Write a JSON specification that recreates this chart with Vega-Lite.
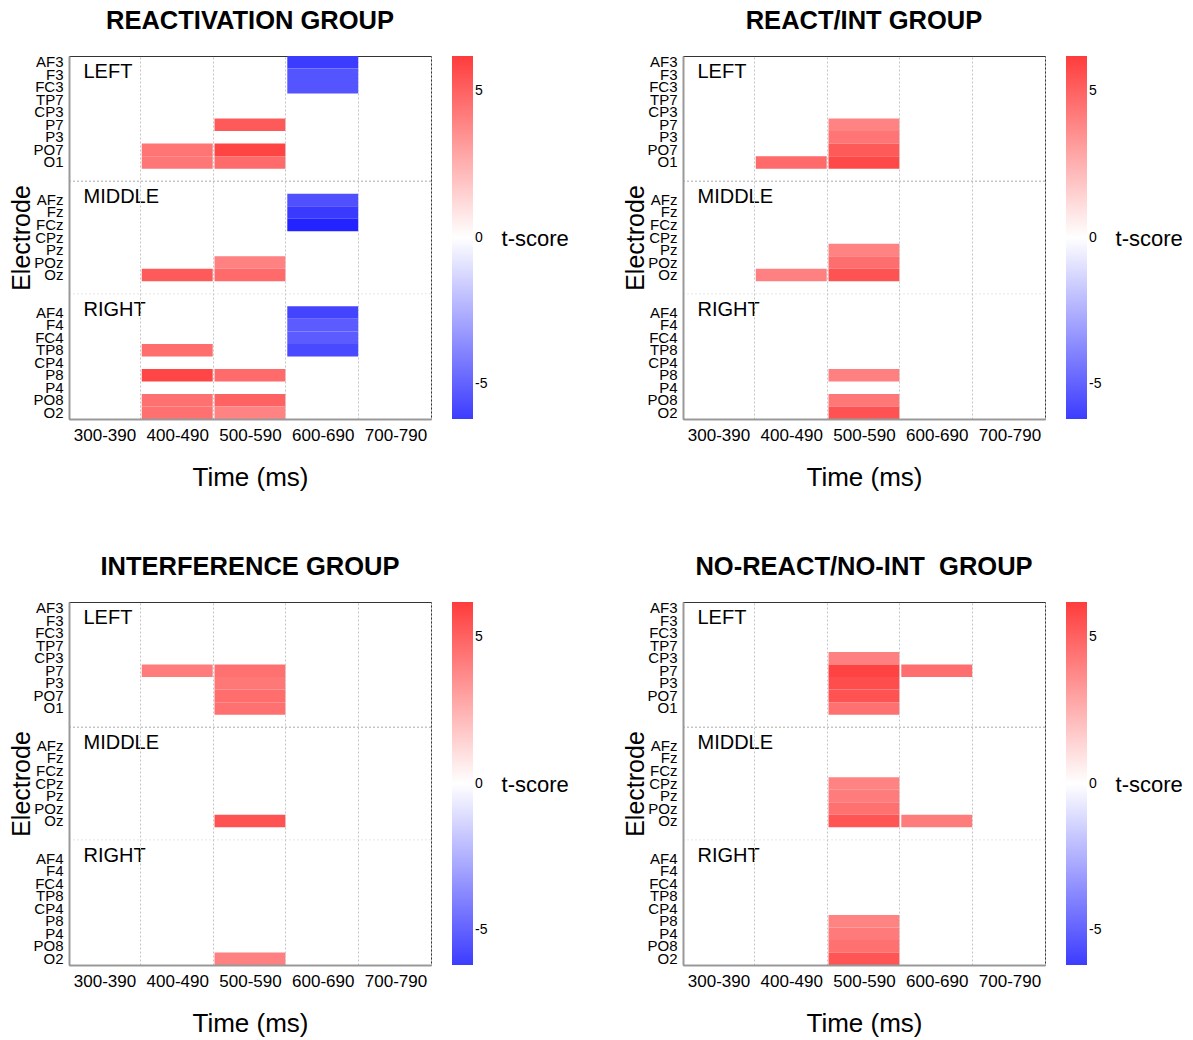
{
  "$schema": "https://vega.github.io/schema/vega-lite/v6.json",
  "background": "white",
  "padding": {"left": 9, "top": 8, "right": 5, "bottom": 5},
  "datasets": {
    "cells": [
      {"panel": "A", "time": "600-690", "electrode": "AF3", "t": -6.2},
      {"panel": "A", "time": "600-690", "electrode": "F3", "t": -5.4},
      {"panel": "A", "time": "600-690", "electrode": "FC3", "t": -5.4},
      {"panel": "A", "time": "500-590", "electrode": "P7", "t": 5.25},
      {"panel": "A", "time": "500-590", "electrode": "PO7", "t": 5.95},
      {"panel": "A", "time": "500-590", "electrode": "O1", "t": 4.75},
      {"panel": "A", "time": "400-490", "electrode": "PO7", "t": 4.4},
      {"panel": "A", "time": "400-490", "electrode": "O1", "t": 4.35},
      {"panel": "A", "time": "600-690", "electrode": "AFz", "t": -5.55},
      {"panel": "A", "time": "600-690", "electrode": "Fz", "t": -6.25},
      {"panel": "A", "time": "600-690", "electrode": "FCz", "t": -7.0},
      {"panel": "A", "time": "500-590", "electrode": "POz", "t": 4.0},
      {"panel": "A", "time": "500-590", "electrode": "Oz", "t": 4.75},
      {"panel": "A", "time": "400-490", "electrode": "Oz", "t": 5.25},
      {"panel": "A", "time": "600-690", "electrode": "AF4", "t": -5.95},
      {"panel": "A", "time": "600-690", "electrode": "F4", "t": -5.2},
      {"panel": "A", "time": "600-690", "electrode": "FC4", "t": -5.2},
      {"panel": "A", "time": "600-690", "electrode": "TP8", "t": -5.8},
      {"panel": "A", "time": "400-490", "electrode": "TP8", "t": 4.65},
      {"panel": "A", "time": "400-490", "electrode": "P8", "t": 5.9},
      {"panel": "A", "time": "400-490", "electrode": "PO8", "t": 4.55},
      {"panel": "A", "time": "400-490", "electrode": "O2", "t": 4.55},
      {"panel": "A", "time": "500-590", "electrode": "P8", "t": 4.75},
      {"panel": "A", "time": "500-590", "electrode": "PO8", "t": 5.0},
      {"panel": "A", "time": "500-590", "electrode": "O2", "t": 3.95},

      {"panel": "B", "time": "400-490", "electrode": "O1", "t": 4.75},
      {"panel": "B", "time": "500-590", "electrode": "P7", "t": 3.95},
      {"panel": "B", "time": "500-590", "electrode": "P3", "t": 4.4},
      {"panel": "B", "time": "500-590", "electrode": "PO7", "t": 5.25},
      {"panel": "B", "time": "500-590", "electrode": "O1", "t": 5.8},
      {"panel": "B", "time": "400-490", "electrode": "Oz", "t": 4.05},
      {"panel": "B", "time": "500-590", "electrode": "Pz", "t": 3.95},
      {"panel": "B", "time": "500-590", "electrode": "POz", "t": 4.6},
      {"panel": "B", "time": "500-590", "electrode": "Oz", "t": 5.5},
      {"panel": "B", "time": "500-590", "electrode": "P8", "t": 4.05},
      {"panel": "B", "time": "500-590", "electrode": "PO8", "t": 4.3},
      {"panel": "B", "time": "500-590", "electrode": "O2", "t": 5.5},

      {"panel": "C", "time": "400-490", "electrode": "P7", "t": 4.15},
      {"panel": "C", "time": "500-590", "electrode": "P7", "t": 4.55},
      {"panel": "C", "time": "500-590", "electrode": "P3", "t": 4.3},
      {"panel": "C", "time": "500-590", "electrode": "PO7", "t": 4.65},
      {"panel": "C", "time": "500-590", "electrode": "O1", "t": 4.5},
      {"panel": "C", "time": "500-590", "electrode": "Oz", "t": 5.5},
      {"panel": "C", "time": "500-590", "electrode": "O2", "t": 4.05},

      {"panel": "D", "time": "500-590", "electrode": "CP3", "t": 4.05},
      {"panel": "D", "time": "500-590", "electrode": "P7", "t": 6.0},
      {"panel": "D", "time": "500-590", "electrode": "P3", "t": 5.7},
      {"panel": "D", "time": "500-590", "electrode": "PO7", "t": 5.5},
      {"panel": "D", "time": "500-590", "electrode": "O1", "t": 4.55},
      {"panel": "D", "time": "600-690", "electrode": "P7", "t": 4.6},
      {"panel": "D", "time": "500-590", "electrode": "CPz", "t": 3.95},
      {"panel": "D", "time": "500-590", "electrode": "Pz", "t": 4.15},
      {"panel": "D", "time": "500-590", "electrode": "POz", "t": 4.5},
      {"panel": "D", "time": "500-590", "electrode": "Oz", "t": 5.4},
      {"panel": "D", "time": "600-690", "electrode": "Oz", "t": 4.15},
      {"panel": "D", "time": "500-590", "electrode": "P8", "t": 3.95},
      {"panel": "D", "time": "500-590", "electrode": "P4", "t": 4.2},
      {"panel": "D", "time": "500-590", "electrode": "PO8", "t": 4.5},
      {"panel": "D", "time": "500-590", "electrode": "O2", "t": 5.4}
    ],
    "groups": [
      {"label": "LEFT", "electrode": "F3"},
      {"label": "MIDDLE", "electrode": "AFz"},
      {"label": "RIGHT", "electrode": "AF4"}
    ],
    "scoreTitle": [
      {"label": "t-score", "electrode": "CPz"}
    ],
    "separators": [
      {"electrode": "_g2", "shade": "a"},
      {"electrode": "_g4", "shade": "b"}
    ]
  },
  "columns": 2,
  "spacing": {"column": 53, "row": 63},
  "resolve": {"scale": {"color": "independent"}, "legend": {"color": "independent"}},
  "concat": [
    {
      "title": "REACTIVATION GROUP",
      "width": 362, "height": 363,
      "layer": [
        {
          "data": {"name": "cells"},
          "transform": [{"filter": "datum.panel === 'A'"}],
          "mark": {"type": "rect"},
          "encoding": {
            "x": {"field": "time", "type": "ordinal", "scale": {"domain": ["300-390", "400-490", "500-590", "600-690", "700-790"], "paddingInner": 0.025, "paddingOuter": 0}, "axis": {"title": "Time (ms)"}},
            "y": {"field": "electrode", "type": "ordinal", "scale": {"domain": ["AF3", "F3", "FC3", "TP7", "CP3", "P7", "P3", "PO7", "O1", "_g1", "_g2", "AFz", "Fz", "FCz", "CPz", "Pz", "POz", "Oz", "_g3", "_g4", "AF4", "F4", "FC4", "TP8", "CP4", "P8", "P4", "PO8", "O2"], "paddingInner": 0, "paddingOuter": 0}, "axis": {"title": "Electrode"}},
            "color": {"field": "t", "type": "quantitative", "scale": {"type": "linear", "domain": [-6.2, 0, 6.2], "range": ["#3c3cff", "#ffffff", "#ff3c3c"], "interpolate": "rgb"}, "legend": {"title": null, "values": [-5, 0, 5], "labelExpr": "'' + datum.value"}}
          }
        },
        {
          "data": {"name": "separators"},
          "mark": {"type": "rule", "strokeDash": [2, 2], "strokeWidth": 1},
          "encoding": {"y": {"field": "electrode", "type": "ordinal", "bandPosition": 0}, "stroke": {"field": "shade", "type": "nominal", "scale": {"domain": ["a", "b"], "range": ["#aaaaaa", "#e6e6e6"]}, "legend": null}}
        },
        {
          "data": {"name": "groups"},
          "mark": {"type": "text", "align": "left", "baseline": "middle", "fontSize": 20, "dx": -21, "dy": -3, "color": "#000"},
          "encoding": {"x": {"datum": "300-390", "type": "ordinal"}, "y": {"field": "electrode", "type": "ordinal"}, "text": {"field": "label"}}
        },
        {
          "data": {"name": "scoreTitle"},
          "mark": {"type": "text", "align": "left", "baseline": "middle", "fontSize": 22, "dx": 106, "dy": 1, "color": "#000"},
          "encoding": {"x": {"datum": "700-790", "type": "ordinal"}, "y": {"field": "electrode", "type": "ordinal"}, "text": {"field": "label"}}
        }
      ]
    },
    {
      "title": "REACT/INT GROUP",
      "width": 362, "height": 363,
      "layer": [
        {
          "data": {"name": "cells"},
          "transform": [{"filter": "datum.panel === 'B'"}],
          "mark": {"type": "rect"},
          "encoding": {
            "x": {"field": "time", "type": "ordinal", "scale": {"domain": ["300-390", "400-490", "500-590", "600-690", "700-790"], "paddingInner": 0.025, "paddingOuter": 0}, "axis": {"title": "Time (ms)"}},
            "y": {"field": "electrode", "type": "ordinal", "scale": {"domain": ["AF3", "F3", "FC3", "TP7", "CP3", "P7", "P3", "PO7", "O1", "_g1", "_g2", "AFz", "Fz", "FCz", "CPz", "Pz", "POz", "Oz", "_g3", "_g4", "AF4", "F4", "FC4", "TP8", "CP4", "P8", "P4", "PO8", "O2"], "paddingInner": 0, "paddingOuter": 0}, "axis": {"title": "Electrode"}},
            "color": {"field": "t", "type": "quantitative", "scale": {"type": "linear", "domain": [-6.2, 0, 6.2], "range": ["#3c3cff", "#ffffff", "#ff3c3c"], "interpolate": "rgb"}, "legend": {"title": null, "values": [-5, 0, 5], "labelExpr": "'' + datum.value"}}
          }
        },
        {
          "data": {"name": "separators"},
          "mark": {"type": "rule", "strokeDash": [2, 2], "strokeWidth": 1},
          "encoding": {"y": {"field": "electrode", "type": "ordinal", "bandPosition": 0}, "stroke": {"field": "shade", "type": "nominal", "scale": {"domain": ["a", "b"], "range": ["#aaaaaa", "#e6e6e6"]}, "legend": null}}
        },
        {
          "data": {"name": "groups"},
          "mark": {"type": "text", "align": "left", "baseline": "middle", "fontSize": 20, "dx": -21, "dy": -3, "color": "#000"},
          "encoding": {"x": {"datum": "300-390", "type": "ordinal"}, "y": {"field": "electrode", "type": "ordinal"}, "text": {"field": "label"}}
        },
        {
          "data": {"name": "scoreTitle"},
          "mark": {"type": "text", "align": "left", "baseline": "middle", "fontSize": 22, "dx": 106, "dy": 1, "color": "#000"},
          "encoding": {"x": {"datum": "700-790", "type": "ordinal"}, "y": {"field": "electrode", "type": "ordinal"}, "text": {"field": "label"}}
        }
      ]
    },
    {
      "title": "INTERFERENCE GROUP",
      "width": 362, "height": 363,
      "layer": [
        {
          "data": {"name": "cells"},
          "transform": [{"filter": "datum.panel === 'C'"}],
          "mark": {"type": "rect"},
          "encoding": {
            "x": {"field": "time", "type": "ordinal", "scale": {"domain": ["300-390", "400-490", "500-590", "600-690", "700-790"], "paddingInner": 0.025, "paddingOuter": 0}, "axis": {"title": "Time (ms)"}},
            "y": {"field": "electrode", "type": "ordinal", "scale": {"domain": ["AF3", "F3", "FC3", "TP7", "CP3", "P7", "P3", "PO7", "O1", "_g1", "_g2", "AFz", "Fz", "FCz", "CPz", "Pz", "POz", "Oz", "_g3", "_g4", "AF4", "F4", "FC4", "TP8", "CP4", "P8", "P4", "PO8", "O2"], "paddingInner": 0, "paddingOuter": 0}, "axis": {"title": "Electrode"}},
            "color": {"field": "t", "type": "quantitative", "scale": {"type": "linear", "domain": [-6.2, 0, 6.2], "range": ["#3c3cff", "#ffffff", "#ff3c3c"], "interpolate": "rgb"}, "legend": {"title": null, "values": [-5, 0, 5], "labelExpr": "'' + datum.value"}}
          }
        },
        {
          "data": {"name": "separators"},
          "mark": {"type": "rule", "strokeDash": [2, 2], "strokeWidth": 1},
          "encoding": {"y": {"field": "electrode", "type": "ordinal", "bandPosition": 0}, "stroke": {"field": "shade", "type": "nominal", "scale": {"domain": ["a", "b"], "range": ["#aaaaaa", "#e6e6e6"]}, "legend": null}}
        },
        {
          "data": {"name": "groups"},
          "mark": {"type": "text", "align": "left", "baseline": "middle", "fontSize": 20, "dx": -21, "dy": -3, "color": "#000"},
          "encoding": {"x": {"datum": "300-390", "type": "ordinal"}, "y": {"field": "electrode", "type": "ordinal"}, "text": {"field": "label"}}
        },
        {
          "data": {"name": "scoreTitle"},
          "mark": {"type": "text", "align": "left", "baseline": "middle", "fontSize": 22, "dx": 106, "dy": 1, "color": "#000"},
          "encoding": {"x": {"datum": "700-790", "type": "ordinal"}, "y": {"field": "electrode", "type": "ordinal"}, "text": {"field": "label"}}
        }
      ]
    },
    {
      "title": "NO-REACT/NO-INT\u00a0 GROUP",
      "width": 362, "height": 363,
      "layer": [
        {
          "data": {"name": "cells"},
          "transform": [{"filter": "datum.panel === 'D'"}],
          "mark": {"type": "rect"},
          "encoding": {
            "x": {"field": "time", "type": "ordinal", "scale": {"domain": ["300-390", "400-490", "500-590", "600-690", "700-790"], "paddingInner": 0.025, "paddingOuter": 0}, "axis": {"title": "Time (ms)"}},
            "y": {"field": "electrode", "type": "ordinal", "scale": {"domain": ["AF3", "F3", "FC3", "TP7", "CP3", "P7", "P3", "PO7", "O1", "_g1", "_g2", "AFz", "Fz", "FCz", "CPz", "Pz", "POz", "Oz", "_g3", "_g4", "AF4", "F4", "FC4", "TP8", "CP4", "P8", "P4", "PO8", "O2"], "paddingInner": 0, "paddingOuter": 0}, "axis": {"title": "Electrode"}},
            "color": {"field": "t", "type": "quantitative", "scale": {"type": "linear", "domain": [-6.2, 0, 6.2], "range": ["#3c3cff", "#ffffff", "#ff3c3c"], "interpolate": "rgb"}, "legend": {"title": null, "values": [-5, 0, 5], "labelExpr": "'' + datum.value"}}
          }
        },
        {
          "data": {"name": "separators"},
          "mark": {"type": "rule", "strokeDash": [2, 2], "strokeWidth": 1},
          "encoding": {"y": {"field": "electrode", "type": "ordinal", "bandPosition": 0}, "stroke": {"field": "shade", "type": "nominal", "scale": {"domain": ["a", "b"], "range": ["#aaaaaa", "#e6e6e6"]}, "legend": null}}
        },
        {
          "data": {"name": "groups"},
          "mark": {"type": "text", "align": "left", "baseline": "middle", "fontSize": 20, "dx": -21, "dy": -3, "color": "#000"},
          "encoding": {"x": {"datum": "300-390", "type": "ordinal"}, "y": {"field": "electrode", "type": "ordinal"}, "text": {"field": "label"}}
        },
        {
          "data": {"name": "scoreTitle"},
          "mark": {"type": "text", "align": "left", "baseline": "middle", "fontSize": 22, "dx": 106, "dy": 1, "color": "#000"},
          "encoding": {"x": {"datum": "700-790", "type": "ordinal"}, "y": {"field": "electrode", "type": "ordinal"}, "text": {"field": "label"}}
        }
      ]
    }
  ],
  "config": {
    "font": "Liberation Sans",
    "view": {"stroke": "#333333", "strokeWidth": 1},
    "title": {"fontSize": 25.5, "fontWeight": "bold", "color": "#000000", "frame": "group", "anchor": "middle", "offset": 20},
    "axis": {"labelColor": "#000000", "titleColor": "#000000", "titleFontWeight": "normal", "ticks": false, "domainColor": "#999999", "domainWidth": 2},
    "axisX": {"labelFontSize": 17, "labelAngle": 0, "labelPadding": 8, "titleFontSize": 26, "titlePadding": 21, "grid": true, "gridColor": "#c4c4c4", "gridDash": [2, 2], "gridWidth": 1, "tickBand": "extent"},
    "axisY": {"labelFontSize": 15, "labelPadding": 6, "titleFontSize": 25, "titlePadding": -2, "grid": false, "labelExpr": "indexof(datum.value, '_') === 0 ? '' : datum.value"},
    "legend": {"gradientLength": 363, "gradientThickness": 21, "gradientStrokeWidth": 0, "labelFontSize": 14, "labelColor": "#000000", "labelOffset": 5, "labelOverlap": false, "offset": 21}
  }
}
